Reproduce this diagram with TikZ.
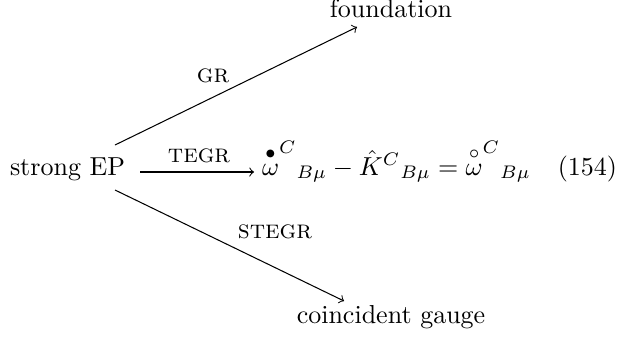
\documentclass[tikz,border=0pt]{standalone}
\usepackage{amsmath}
\begin{document}
\begin{tikzpicture}[x=0.3846pt,y=-0.3846pt,
  txt/.style={inner sep=0pt,outer sep=0pt},
  lbl/.style={inner sep=0pt,font=\scshape},
  arr/.style={->,line width=0.4pt}]
\useasboundingbox (0,0) rectangle (618,341);
\node[txt,anchor=base west] (sep) at (10,175) {strong EP};
\node[txt,anchor=base] (fnd) at (391,17) {foundation};
\node[txt,anchor=base] (cg) at (391,323) {coincident gauge};
\node[txt,anchor=base west] (eq) at (262,175) {$\overset{\bullet}{\omega}^{C}{}_{B\mu} - \hat{K}^{C}{}_{B\mu} = \overset{\circ}{\omega}^{C}{}_{B\mu}$};
\node[txt,anchor=base east] (num) at (617,175) {(154)};
\coordinate (s1) at (115,145);
\coordinate (e1) at (357,27);
\coordinate (s2) at (115,190);
\coordinate (e2) at (344,301);
\coordinate (s3) at (140,172);
\coordinate (e3) at (254,172);
\draw[arr] (s1) -- (e1);
\draw[arr] (s2) -- (e2);
\draw[arr] (s3) -- (e3);
\node[lbl,anchor=base] (gr) at (213,82) {gr};
\node[lbl,anchor=base] (tegr) at (199,162) {tegr};
\node[lbl,anchor=base] (stegr) at (275,238) {stegr};
\end{tikzpicture}
\end{document}
